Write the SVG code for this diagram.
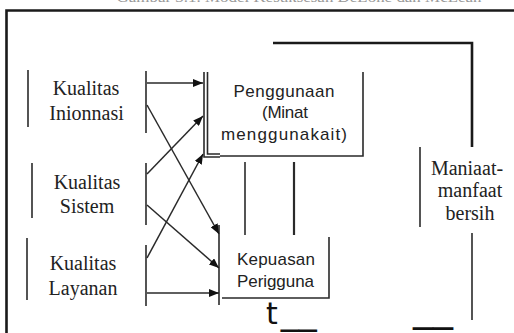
<svg xmlns="http://www.w3.org/2000/svg" width="514" height="333" viewBox="0 0 514 333">
<defs>
<style>
.ln{stroke:#2a2a2a;stroke-width:1.6;fill:none}
.thk{stroke:#1a1a1a;stroke-width:2.6;fill:none}
.ar{stroke:#2a2a2a;stroke-width:1.5;fill:none;marker-end:url(#ah)}
.serif{font-family:"Liberation Serif","Times New Roman",serif;font-size:20px;fill:#222;text-anchor:middle}
.sans{font-family:"Liberation Sans",Arial,sans-serif;font-size:17px;fill:#222;text-anchor:middle}
.big{font-family:"DejaVu Sans",sans-serif;fill:#111}
</style>
<marker id="ah" viewBox="0 0 10 8" refX="10" refY="4" markerWidth="10" markerHeight="8" markerUnits="userSpaceOnUse" orient="auto">
<path d="M0,0 L10,4 L0,8 Z" fill="#111"/>
</marker>
</defs>
<rect width="514" height="333" fill="#fff"/>
<text x="299" y="1.5" font-family="Liberation Serif, serif" font-size="15" fill="#999" text-anchor="middle" textLength="365" lengthAdjust="spacingAndGlyphs">Gambar 3.1. Model Kesuksesan DeLone dan McLean</text>
<g id="frame">
<path class="thk" d="M6.5,333 V10.5 H514"/>
</g>
<g id="kualitas-informasi">
<line class="ln" x1="28" y1="70" x2="28" y2="127"/>
<text class="serif" x="86" y="95">Kualitas</text>
<text class="serif" x="86.5" y="120">Inionnasi</text>
<line class="ln" x1="146" y1="71" x2="146" y2="133"/>
</g>
<g id="kualitas-sistem">
<line class="ln" x1="32" y1="163" x2="32" y2="218"/>
<text class="serif" x="87" y="189">Kualitas</text>
<text class="serif" x="87" y="213">Sistem</text>
<line class="ln" x1="146" y1="163" x2="146" y2="225"/>
</g>
<g id="kualitas-layanan">
<line class="ln" x1="27" y1="238" x2="27" y2="300"/>
<text class="serif" x="83" y="270">Kualitas</text>
<text class="serif" x="83" y="295">Layanan</text>
<line class="ln" x1="146" y1="245" x2="146" y2="306"/>
</g>
<g id="penggunaan">
<path class="ln" d="M204,72 V157 H220"/>
<path class="ln" d="M207.5,72 V154 H220"/>
<path class="ln" d="M220,156 H363 V72"/>
<text class="sans" x="284" y="97" textLength="101" lengthAdjust="spacing">Penggunaan</text>
<text class="sans" x="285" y="118" textLength="46" lengthAdjust="spacing">(Minat</text>
<text class="sans" x="284" y="140" textLength="126" lengthAdjust="spacing">menggunakait)</text>
<line class="ln" x1="245" y1="162" x2="245" y2="235"/>
<line class="ln" x1="294" y1="162" x2="294" y2="235" style="stroke-width:2.2"/>
</g>
<g id="kepuasan">
<line class="ln" x1="219" y1="225" x2="219" y2="305"/>
<path class="ln" d="M222,298 H329 V237"/>
<text class="sans" x="276" y="265" textLength="78" lengthAdjust="spacing">Kepuasan</text>
<text class="sans" x="275.5" y="287" textLength="77" lengthAdjust="spacing">Perigguna</text>
<text class="big" x="266" y="324" font-size="30">t<tspan font-size="36" dx="3">__</tspan></text>
</g>
<g id="manfaat">
<line class="ln" x1="420" y1="147" x2="420" y2="227"/>
<text class="serif" x="467" y="175">Maniaat-</text>
<text class="serif" x="470" y="197">manfaat</text>
<text class="serif" x="470" y="220">bersih</text>
<line class="ln" x1="472" y1="233" x2="472" y2="320"/>
<text class="big" x="413" y="320" font-size="40">__</text>
</g>
<g id="connectors">
<path class="thk" d="M273,43 H472 V147"/>
<line class="ar" x1="147" y1="83" x2="203" y2="83"/>
<line class="ar" x1="147" y1="105" x2="219" y2="234"/>
<line class="ar" x1="147" y1="174" x2="203" y2="116"/>
<line class="ar" x1="147" y1="205" x2="219" y2="268"/>
<line class="ar" x1="147" y1="258" x2="203" y2="154"/>
<line class="ar" x1="147" y1="293" x2="219" y2="293"/>
</g>
</svg>
